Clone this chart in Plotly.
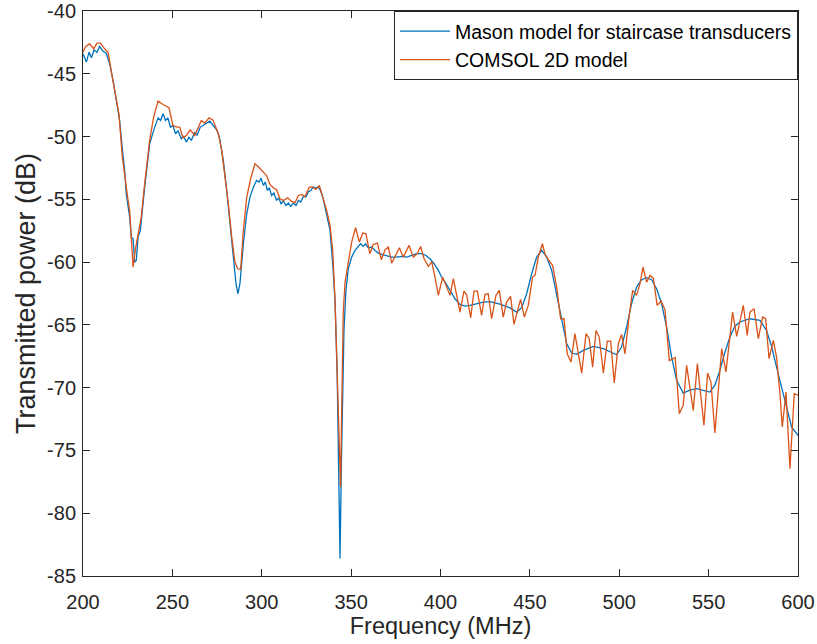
import plotly.graph_objects as go

# Mason model (staircase transducers): frequency in MHz, transmitted power in dB
mason_freq = [
    200, 201.9, 203.4, 204.7, 206.2, 207.8, 209.3, 211.2, 213, 214.9, 216.8, 218.6,
    220.5, 222, 223.3, 224.2, 226.1, 227, 228, 228.9, 229.8, 230.8, 232.1, 234.5,
    237.3, 240.1, 242, 243.4, 244.8, 246.2, 247.5, 248.9, 250.3, 251.8, 253.1, 255,
    256.3, 257.8, 259.3, 260.6, 262.5, 263.8, 265.6, 267.1, 269, 270.9, 272.4, 274.8,
    276.3, 278.5, 280.4, 282.2, 284.1, 285.6, 286.7, 287.8, 289.7, 291.6, 293.4, 295.3,
    297.1, 298.6, 299.6, 300.9, 302, 303.1, 304.2, 305.5, 306.8, 308.3, 309.4, 310.8,
    312.1, 313.6, 314.9, 316.2, 317.7, 319.2, 320.5, 321.8, 323.3, 324.7, 326, 327.4,
    328.8, 330.3, 331.6, 332.9, 334.4, 336.3, 338.2, 339.7, 341, 342.2, 343.1, 343.8,
    344.5, 345.3, 346, 347.1, 348.4, 350.3, 352.2, 354, 355.3, 356.8, 358.1, 359.6,
    361.5, 363.4, 365.2, 367.1, 369.9, 372.7, 375.5, 378.3, 381.1, 383.9, 386.7, 389.5,
    391.9, 394.1, 396.4, 398.8, 400.6, 403.1, 405.3, 408.1, 410.9, 413.7, 416.5, 420.2,
    424, 427.7, 433.3, 438.9, 442.6, 445.4, 448.2, 451, 453.8, 456.6, 459.4, 462.2,
    465, 467.8, 470.6, 473.4, 476.2, 479.9, 485.5, 491.1, 495.7, 498.5, 501.3, 504.1,
    506.9, 509.7, 512.5, 515.3, 518.1, 520.9, 523.7, 526.5, 529.3, 532.1, 535.8, 539.5,
    543.3, 547, 550.7, 553.5, 556.3, 559.1, 561.9, 564.7, 567.5, 573.1, 578.7, 582.4,
    585.2, 588, 590.8, 593.6, 596.4, 600,
]
mason_db = [
    -43.41, -44.07, -43.28, -43.73, -43.09, -43.3, -42.83, -43.2, -43.36, -44.2, -45.53, -47.13,
    -48.72, -50.97, -52.7, -54.56, -56.4, -58.0, -58.14, -60.0, -59.87, -58.0, -57.48, -54.03,
    -50.58, -49.25, -48.51, -48.72, -48.19, -48.72, -48.51, -49.25, -49.12, -49.78, -49.52, -50.18,
    -49.99, -50.44, -50.05, -50.31, -49.65, -49.91, -49.25, -49.12, -48.93, -48.77, -49.04, -49.46,
    -50.05, -51.9, -54.29, -56.95, -59.87, -61.72, -62.52, -61.72, -58.54, -56.15, -54.82, -54.03,
    -53.5, -53.63, -53.31, -53.89, -53.63, -54.29, -54.08, -54.69, -54.5, -55.09, -54.88, -55.35,
    -55.14, -55.49, -55.3, -55.57, -55.3, -55.49, -55.09, -55.22, -54.77, -54.82, -54.42, -54.29,
    -54.03, -54.11, -54.03, -54.29, -54.96, -56.15, -57.48, -60.13, -63.05, -69.0, -76.0, -83.6,
    -76.5, -69.5, -65.4, -62.25, -60.53, -59.6, -59.07, -58.75, -58.54, -58.75, -58.54, -58.86,
    -58.8, -59.07, -59.28, -59.39, -59.47, -59.6, -59.6, -59.55, -59.6, -59.47, -59.33, -59.33,
    -59.47, -59.73, -60.13, -60.66, -61.19, -61.72, -62.25, -62.92, -63.37, -63.5, -63.45, -63.3,
    -63.18, -63.15, -63.35, -63.65, -63.98, -63.63, -62.52, -60.93, -59.6, -59.07, -59.6, -60.66,
    -62.52, -64.64, -66.5, -67.24, -67.35, -67.03, -66.71, -66.9, -67.24, -67.38, -66.77, -65.17,
    -63.31, -61.99, -61.4, -61.24, -61.4, -62.12, -63.31, -65.17, -67.56, -69.42, -70.43, -70.2,
    -70.08, -70.2, -70.35, -69.8, -68.62, -67.2, -65.97, -65.1, -64.77, -64.51, -64.64, -65.44,
    -66.7, -68.36, -70.0, -71.54, -73.13, -73.8,
]

# COMSOL 2D model: frequency in MHz, transmitted power in dB
comsol_freq = [
    200, 201.5, 203.7, 206, 207.8, 209.7, 212.1, 214, 216.4, 218.6, 220.1, 222,
    223.9, 225.2, 226.1, 227, 228, 229.5, 230.8, 232.6, 234.5, 237.3, 239.5, 242,
    244.8, 248.1, 250.3, 252.6, 254.1, 255.9, 257.8, 260, 262.5, 264.3, 266.2, 268.1,
    270.5, 272.7, 275.7, 277.6, 279.4, 281.3, 283.2, 285, 286.5, 288.2, 289.7, 291.6,
    293.8, 296.2, 298.6, 300.9, 302.7, 304.6, 306.5, 308.3, 310.2, 312.1, 314.5, 316.7,
    318.6, 320.5, 322.3, 324.2, 326.6, 328.5, 330.3, 332.2, 334.1, 336.3, 338.2, 339.7,
    341, 342.5, 343.4, 344.1, 344.8, 345.6, 346.6, 347.9, 350.3, 352.5, 354.6, 356.5,
    358.3, 360.5, 362.4, 364.7, 366.9, 369, 370.8, 372.7, 375.1, 377, 379.2, 382.4,
    384.8, 387, 388.9, 390.8, 393.2, 395.1, 396.9, 398.8, 401.2, 403.4, 405.3, 407.2,
    409, 410.9, 413.1, 414.6, 416.9, 418.7, 420.6, 423, 424.9, 426.7, 428.6, 431,
    432.9, 435.1, 437, 439.2, 441.1, 443, 444.8, 446.9, 449.1, 451.5, 452.9, 454.7,
    457, 458.4, 460.3, 462.7, 465, 467.2, 469.1, 470.9, 473, 475.2, 477.1, 479,
    481.4, 483.2, 485.1, 487, 488.8, 491.1, 493.3, 495.2, 497.2, 499.5, 501.3, 503.2,
    505.6, 507.5, 509.7, 511.6, 513.3, 515.3, 517.2, 519.1, 521.2, 523.4, 525.6, 528,
    531.3, 533.6, 535.8, 537.7, 541.4, 543.7, 547.4, 549.4, 551.3, 553.5, 557.3, 559.7,
    563.4, 565.7, 569.4, 571.6, 573.1, 575.4, 577.8, 580.2, 581.9, 583.8, 586.2, 588,
    589.9, 591.2, 593.3, 595.5, 597.9, 600,
]
comsol_db = [
    -43.28, -42.83, -42.62, -43.01, -42.56, -42.56, -43.01, -43.28, -45.27, -46.86, -48.19, -51.64,
    -53.89, -55.09, -55.88, -58.27, -60.4, -58.8, -57.74, -56.41, -53.76, -50.31, -48.45, -47.18,
    -47.45, -47.71, -49.12, -49.25, -49.25, -50.1, -49.91, -49.46, -49.91, -49.38, -48.72, -48.93,
    -48.51, -48.67, -49.78, -51.1, -52.96, -55.35, -58.01, -60.0, -60.53, -60.58, -57.48, -54.82,
    -53.36, -52.17, -52.49, -52.83, -53.1, -53.81, -54.08, -54.24, -54.96, -55.09, -54.88, -55.17,
    -55.27, -54.69, -54.61, -54.77, -54.03, -54.03, -54.21, -53.89, -54.77, -55.88, -57.08, -59.07,
    -63.05, -69.5, -74.5, -77.9, -71.0, -64.0, -61.6, -60.4, -58.4, -57.26, -58.4, -57.69,
    -57.74, -59.33, -58.59, -58.49, -59.81, -59.02, -58.8, -60.08, -59.33, -58.86, -59.6, -58.67,
    -59.6, -59.33, -58.75, -59.73, -60.34, -59.98, -61.19, -62.65, -61.19, -61.99, -62.65, -61.32,
    -62.65, -63.98, -62.31, -62.6, -64.43, -62.31, -62.31, -64.24, -62.57, -62.52, -64.51, -62.65,
    -62.25, -64.38, -63.18, -62.73, -64.96, -63.98, -62.97, -64.38, -63.45, -61.19, -61.06, -59.6,
    -58.54, -59.33, -59.81, -60.26, -61.99, -64.51, -64.51, -67.3, -67.96, -65.7, -67.3, -68.84,
    -65.7, -66.1, -68.36, -65.44, -65.97, -68.84, -66.29, -66.29, -69.63, -66.5, -65.76, -67.3,
    -64.24, -62.25, -62.65, -61.72, -60.4, -61.6, -61.06, -61.3, -63.45, -63.1, -63.8, -67.85,
    -67.6, -72.07, -71.41, -68.22, -71.81, -68.09, -73.0, -68.84, -69.55, -73.61, -66.9, -68.75,
    -63.98, -65.92, -63.45, -65.84, -63.98, -63.71, -66.1, -64.38, -64.51, -67.69, -66.23, -67.56,
    -70.48, -73.13, -70.35, -76.45, -70.48, -70.6,
]

x_ticks = [200, 250, 300, 350, 400, 450, 500, 550, 600]
y_ticks = [-85, -80, -75, -70, -65, -60, -55, -50, -45, -40]

AXIS_COLOR = "#262626"
FONT = "Liberation Sans, Arial, Helvetica, sans-serif"

fig = go.Figure()
fig.add_trace(go.Scatter(
    x=mason_freq, y=mason_db, mode="lines",
    name="Mason model for staircase transducers",
    line=dict(color="#0072BD", width=1.3),
))
fig.add_trace(go.Scatter(
    x=comsol_freq, y=comsol_db, mode="lines",
    name="COMSOL 2D model",
    line=dict(color="#D95319", width=1.3),
))

axis_common = dict(
    showline=True, linecolor=AXIS_COLOR, linewidth=1, mirror="allticks",
    ticks="inside", ticklen=7, tickwidth=1, tickcolor=AXIS_COLOR,
    showgrid=False, zeroline=False, automargin=False,
    tickfont=dict(family=FONT, size=20, color=AXIS_COLOR),
)

fig.update_xaxes(
    range=[200, 600], tickvals=x_ticks, ticktext=[str(v) for v in x_ticks],
    ticklabelstandoff=8,
    title=dict(text="Frequency (MHz)", font=dict(family=FONT, size=23.5, color=AXIS_COLOR), standoff=4),
    **axis_common,
)
fig.update_yaxes(
    range=[-85, -40], tickvals=y_ticks, ticktext=[str(v) for v in y_ticks],
    ticklabelstandoff=2,
    title=dict(text="Transmitted power (dB)", font=dict(family=FONT, size=27, color=AXIS_COLOR), standoff=3),
    **axis_common,
)

fig.update_layout(
    width=817, height=644,
    margin=dict(l=83, r=19, t=11, b=68),
    paper_bgcolor="white", plot_bgcolor="white",
    font=dict(family=FONT, color=AXIS_COLOR),
    legend=dict(
        x=1, y=1, xanchor="right", yanchor="top",
        bgcolor="white", bordercolor=AXIS_COLOR, borderwidth=1,
        font=dict(family=FONT, size=19.5, color="black"),
        itemwidth=50, tracegroupgap=0,
    ),
)

fig.write_html("out.html")
